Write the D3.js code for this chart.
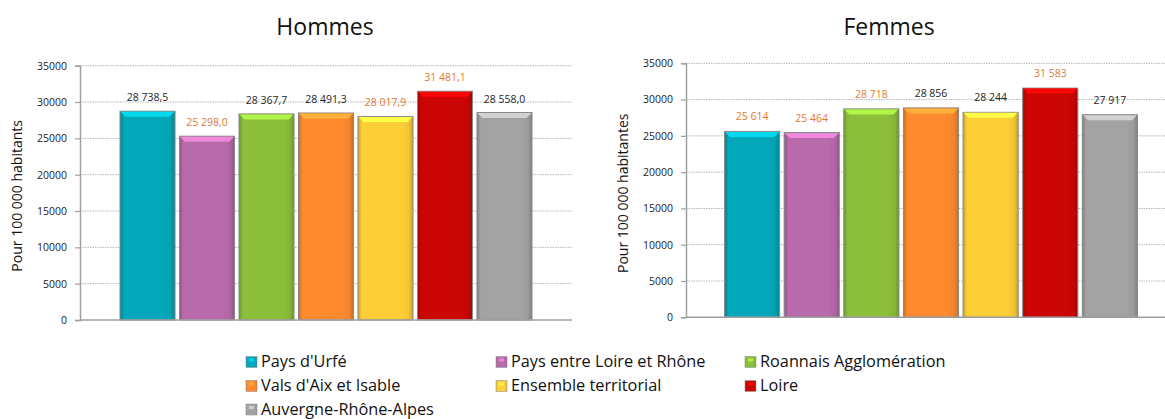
<!DOCTYPE html>
<html>
<head>
<meta charset="utf-8">
<script src="https://cdn.jsdelivr.net/npm/d3@7"></script>
<style>
  html, body { margin: 0; padding: 0; background: #fff; }
  svg { display: block; font-family: "Open Sans", "Noto Sans", sans-serif; }
</style>
</head>
<body>
<svg id="chart" width="1165" height="419"></svg>
<script>
const categories = ["Pays d'Urfé", "Pays entre Loire et Rhône", "Roannais Agglomération",
  "Vals d'Aix et Isable", "Ensemble territorial", "Loire", "Auvergne-Rhône-Alpes"];
const colors = ["#02a8b9", "#b96aab", "#8bbf3a", "#fd8a2e", "#fece36", "#cc0505", "#a3a3a3"];
const hommesValues = [28738.5, 25298.0, 28367.7, 28491.3, 28017.9, 31481.1, 28558.0];
const femmesValues = [25614, 25464, 28718, 28856, 28244, 31583, 27917];
// label colour flag: true = orange
const hommesOrange = [false, true, false, false, true, true, false];
const femmesOrange = [true, true, true, false, false, true, false];
const yTicks = [0, 5000, 10000, 15000, 20000, 25000, 30000, 35000];

const svg = d3.select("#chart");
const fr = d3.formatLocale({decimal: ",", thousands: "\u00a0", grouping: [3], currency: ["", "€"]});
const fmt1 = fr.format(",.1f");
const fmt0 = fr.format(",.0f");

// gradients
const defs = svg.append("defs");
colors.forEach((c, i) => {
  const g = defs.append("linearGradient").attr("id", "g" + i)
    .attr("x1", "0").attr("x2", "1").attr("y1", "0").attr("y2", "0");
  const dark = d3.color(c).darker(0.7);
  const mid = d3.color(c).darker(0.15);
  g.append("stop").attr("offset", "0%").attr("stop-color", dark);
  g.append("stop").attr("offset", "7%").attr("stop-color", c);
  g.append("stop").attr("offset", "80%").attr("stop-color", c);
  g.append("stop").attr("offset", "93%").attr("stop-color", mid);
  g.append("stop").attr("offset", "100%").attr("stop-color", dark);
});

function drawChart(cfg) {
  const {values, orange, fmt, title, titleX, ylabel, ylabelX, axisX, plotRight, yTop, yBottom, barRange, labelOff} = cfg;
  const g = svg.append("g");
  const y = d3.scaleLinear().domain([0, 35000]).range([yBottom, yTop]);
  const x = d3.scaleBand().domain(categories).range(barRange).paddingInner(0.075).paddingOuter(0);

  // grid
  g.append("g").selectAll("line").data(yTicks.filter(d => d > 0)).join("line")
    .attr("x1", axisX).attr("x2", plotRight)
    .attr("y1", d => y(d)).attr("y2", d => y(d))
    .attr("stroke", "#b5b5b5").attr("stroke-width", 1).attr("stroke-dasharray", "1.5,1");

  // y axis
  const ax = g.append("g").attr("transform", `translate(${axisX},0)`)
    .call(d3.axisLeft(y).tickValues(yTicks).tickSize(5).tickPadding(8).tickFormat(d3.format("d")));
  ax.select(".domain").attr("stroke", "#a0a0a0").attr("stroke-width", 1.5);
  ax.selectAll(".tick line").attr("stroke", "#a0a0a0").attr("stroke-width", 1.2);
  ax.selectAll(".tick text").attr("fill", "#222").style("font-size", "10.5px")
    .style("font-family", "'Open Sans', sans-serif");

  // bars
  const bars = g.append("g").selectAll("g").data(values).join("g");
  bars.append("rect")
    .attr("x", (d, i) => x(categories[i]))
    .attr("y", d => y(d))
    .attr("width", x.bandwidth())
    .attr("height", d => yBottom - y(d))
    .attr("fill", (d, i) => `url(#g${i})`)
    .attr("stroke", "#8a8a8a").attr("stroke-width", 1);
  bars.append("path")
    .attr("d", (d, i) => {
      const x0 = x(categories[i]) + 0.5, x1 = x0 + x.bandwidth() - 1, t = y(d) + 0.5, b = 5;
      return `M${x0},${t}L${x1},${t}L${x1 - b},${t + b}L${x0 + b},${t + b}Z`;
    })
    .attr("fill", (d, i) => d3.color(colors[i]).brighter(0.7));

  // bottom axis line
  g.append("line").attr("x1", axisX).attr("x2", plotRight)
    .attr("y1", yBottom).attr("y2", yBottom)
    .attr("stroke", "#a0a0a0").attr("stroke-width", 1.5);

  // labels
  g.append("g").selectAll("text").data(values).join("text")
    .attr("x", (d, i) => x(categories[i]) + x.bandwidth() / 2)
    .attr("y", d => y(d) - labelOff)
    .attr("text-anchor", "middle")
    .attr("fill", (d, i) => orange[i] ? "#e07a35" : "#262626")
    .style("font-size", "10.5px")
    .text(d => fmt(d));

  // title
  g.append("text").attr("x", titleX).attr("y", 35).attr("text-anchor", "middle")
    .attr("fill", "#111").style("font-size", "23px").text(title);

  // y label
  g.append("text")
    .attr("transform", `translate(${ylabelX},${(yTop + yBottom) / 2 + 3}) rotate(-90)`)
    .attr("text-anchor", "middle").attr("dy", "0.35em")
    .attr("fill", "#111").style("font-size", "14px").text(ylabel);
}

drawChart({values: hommesValues, orange: hommesOrange, fmt: fmt1, title: "Hommes", titleX: 325,
  ylabel: "Pour 100 000 habitants", ylabelX: 17, axisX: 80, plotRight: 572,
  yTop: 65.7, yBottom: 320, barRange: [120, 532], labelOff: 10});
drawChart({values: femmesValues, orange: femmesOrange, fmt: fmt0, title: "Femmes", titleX: 889,
  ylabel: "Pour 100 000 habitantes", ylabelX: 623, axisX: 686, plotRight: 1165,
  yTop: 63.3, yBottom: 317.3, barRange: [724.5, 1137.5], labelOff: 11});

// legend
const legendCols = [246, 496, 745];
const legendRows = [367, 391, 414.5];
const lg = svg.append("g");
categories.forEach((c, i) => {
  const col = i % 3, row = Math.floor(i / 3);
  const lx = legendCols[col], ly = legendRows[row];
  const item = lg.append("g");
  item.append("rect").attr("x", lx).attr("y", ly - 10.5).attr("width", 11).attr("height", 11)
    .attr("fill", `url(#g${i})`).attr("stroke", "#999").attr("stroke-width", 0.6);
  item.append("rect").attr("x", lx + 3).attr("y", ly - 8.5).attr("width", 5).attr("height", 3)
    .attr("fill", d3.color(colors[i]).brighter(0.8)).attr("opacity", 0.8);
  item.append("text").attr("x", lx + 15).attr("y", ly).attr("fill", "#111")
    .style("font-size", "16.3px").text(c);
});
</script>
</body>
</html>
